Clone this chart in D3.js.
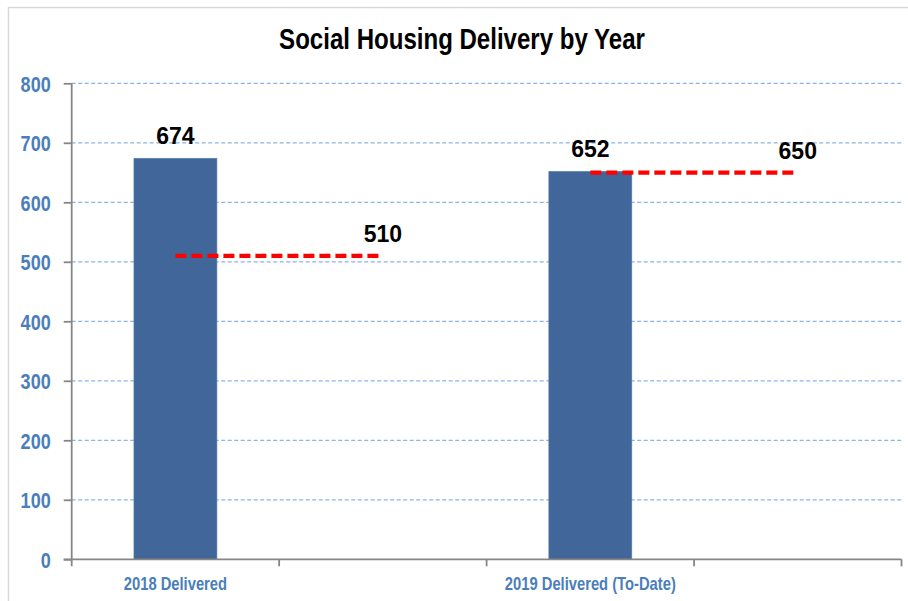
<!DOCTYPE html>
<html><head><meta charset="utf-8">
<script src="https://cdn.jsdelivr.net/npm/d3@7"></script>
<style>
html,body{margin:0;padding:0;background:#fff;}
svg{display:block;}
</style></head>
<body>
<svg id="chart" width="908" height="601"></svg>
<script>
const title = "Social Housing Delivery by Year";
const categories = ["2018 Delivered", "2018 Target", "2019 Delivered (To-Date)", "2019 Target"];
const tickLabels = ["2018 Delivered", "", "2019 Delivered (To-Date)", ""];
const delivered = [674, null, 652, null];
const target2018 = [510, 510, null, null];
const target2019 = [null, null, 650, 650];
const yTicks = [0, 100, 200, 300, 400, 500, 600, 700, 800];

// Arial Narrow is not available: emulate with Liberation Sans Bold squeezed horizontally
const font = "'Liberation Sans',Arial,sans-serif";
const squeeze = 0.82;
const svg = d3.select("#chart");
const mLeft = 71.7, mRight = 901.5, mTop = 83.3, mBottom = 559.3;

svg.append("rect").attr("x", 8.5).attr("y", 7.5).attr("width", 930).attr("height", 630)
  .attr("fill", "#fff").attr("stroke", "#d9d9d9").attr("stroke-width", 1.5);

const x = d3.scaleBand().domain(categories).range([mLeft, mRight]).padding(0);
const y = d3.scaleLinear().domain([0, 800]).range([mBottom, mTop]);

// gridlines
svg.append("g").selectAll("line").data(yTicks.filter(d => d > 0)).join("line")
  .attr("x1", mLeft).attr("x2", mRight)
  .attr("y1", d => y(d)).attr("y2", d => y(d))
  .attr("stroke", "#8db4e2").attr("stroke-width", 1.2).attr("stroke-dasharray", "4,2.5");

// bars
const barW = x.bandwidth() * 0.4;
const barData = categories.map((c, i) => ({c, v: delivered[i]})).filter(d => d.v != null);
svg.append("g").selectAll("rect").data(barData)
  .join("rect")
  .attr("x", d => x(d.c) + x.bandwidth() / 2 - barW / 2)
  .attr("width", barW)
  .attr("y", d => y(d.v))
  .attr("height", d => y(0) - y(d.v))
  .attr("fill", "#41679a").attr("stroke", "#5b80b0").attr("stroke-width", 0.6);

// bar labels
svg.append("g").selectAll("text").data(barData)
  .join("text")
  .attr("x", d => x(d.c) + x.bandwidth() / 2)
  .attr("y", d => y(d.v) - 14)
  .attr("text-anchor", "middle")
  .attr("font-family", font).attr("font-weight", "bold")
  .attr("font-size", 23).attr("fill", "#000")
  .text(d => d.v);

// target lines
const lineGen = d3.line().defined(d => d.v != null)
  .x(d => x(d.c) + x.bandwidth() / 2).y(d => y(d.v));
[target2018, target2019].forEach(series => {
  const pts = categories.map((c, i) => ({c, v: series[i]}));
  svg.append("path").datum(pts).attr("d", lineGen)
    .attr("fill", "none").attr("stroke", "#ff0000").attr("stroke-width", 4.3)
    .attr("stroke-dasharray", "11,5");
  const last = pts.filter(d => d.v != null).pop();
  svg.append("text")
    .attr("x", x(last.c) + x.bandwidth() / 2)
    .attr("y", y(last.v) - 14)
    .attr("text-anchor", "middle")
    .attr("font-family", font).attr("font-weight", "bold")
    .attr("font-size", 23).attr("fill", "#000")
    .text(last.v);
});

// y axis
const yAxis = d3.axisLeft(y).tickValues(yTicks).tickSize(8).tickPadding(13);
const yg = svg.append("g").attr("transform", `translate(${mLeft},0)`).call(yAxis);
yg.select(".domain").attr("stroke", "#868686").attr("stroke-width", 1.8).attr("d", `M0,${mTop}V${mBottom}`);
yg.selectAll(".tick line").attr("stroke", "#868686").attr("stroke-width", 1.8);
yg.selectAll(".tick text").attr("font-family", font).attr("font-weight", "bold")
  .attr("font-size", 22).attr("fill", "#4a7ebb").attr("dy", "0.36em")
  .attr("x", -21 / squeeze).attr("transform", `scale(${squeeze},1)`);

// x axis
const xg = svg.append("g").attr("transform", `translate(0,${mBottom})`);
xg.append("line").attr("x1", mLeft - 8).attr("x2", mRight).attr("y1", 0).attr("y2", 0)
  .attr("stroke", "#868686").attr("stroke-width", 1.8);
const bounds = categories.map(c => x(c)).concat([mRight]);
xg.selectAll("line.tk").data(bounds).join("line").attr("class", "tk")
  .attr("x1", d => d).attr("x2", d => d).attr("y1", 0).attr("y2", 7)
  .attr("stroke", "#868686").attr("stroke-width", 1.8);
xg.selectAll("text").data(categories.map((c, i) => ({c, t: tickLabels[i]}))).join("text")
  .attr("transform", d => `translate(${x(d.c) + x.bandwidth() / 2},31) scale(${squeeze},1)`)
  .attr("text-anchor", "middle")
  .attr("font-family", font).attr("font-weight", "bold")
  .attr("font-size", 18).attr("fill", "#4a7ebb")
  .text(d => d.t);

// title
svg.append("text").attr("transform", `translate(462,49) scale(0.83,1)`).attr("text-anchor", "middle")
  .attr("font-family", font).attr("font-weight", "bold").attr("font-size", 29)
  .attr("fill", "#000").text(title);
</script>
</body></html>
